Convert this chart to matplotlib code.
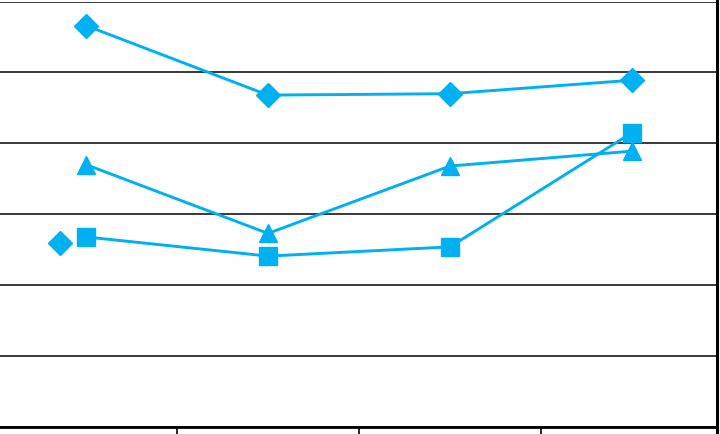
import matplotlib.pyplot as plt

# category positions (labels are cropped out of the reference)
categories = [1, 2, 3, 4]

diamond_vals = [5.66, 4.68, 4.70, 4.89]
triangle_vals = [3.70, 2.73, 3.68, 3.89]
square_vals = [2.68, 2.41, 2.54, 4.15]

# odd single diamond sitting left of the first category
lone_x = [0.857]
lone_y = [2.59]

blue = '#00B0F0'

fig = plt.figure(figsize=(7.2, 4.34), dpi=100)
# plot area is cropped on the left and top in the reference
ax = fig.add_axes([-5 / 720, 7 / 434, 722 / 720, 425.5 / 434])

ax.plot(categories, diamond_vals, color=blue, lw=2.1, marker='D', ms=12, zorder=3)
ax.plot(categories, triangle_vals, color=blue, lw=2.1, marker='^', ms=13, zorder=3)
ax.plot(categories, square_vals, color=blue, lw=2.1, marker='s', ms=13, zorder=3)
ax.plot(lone_x, lone_y, color=blue, ls='none', marker='D', ms=12, zorder=3)

ax.set_xlim(0.5, 1 + 631 / 182)
ax.set_ylim(0, 6)
ax.set_yticks([0, 1, 2, 3, 4, 5, 6])
ax.set_xticks([1.5, 2.5, 3.5])
ax.grid(axis='y', color='#2a2a2a', lw=1.3)
ax.set_axisbelow(True)
ax.tick_params(axis='x', direction='out', length=5, width=1.2, color='black', labelbottom=False)
ax.tick_params(axis='y', length=0, labelleft=False)

ax.spines['left'].set_visible(False)
ax.spines['top'].set_visible(False)
ax.spines['bottom'].set_linewidth(2)
ax.spines['right'].set_linewidth(2.2)
ax.spines['right'].set_bounds(-0.2, 6.1)
ax.spines['right'].set_clip_on(False)

plt.savefig('out.png', dpi=100)
